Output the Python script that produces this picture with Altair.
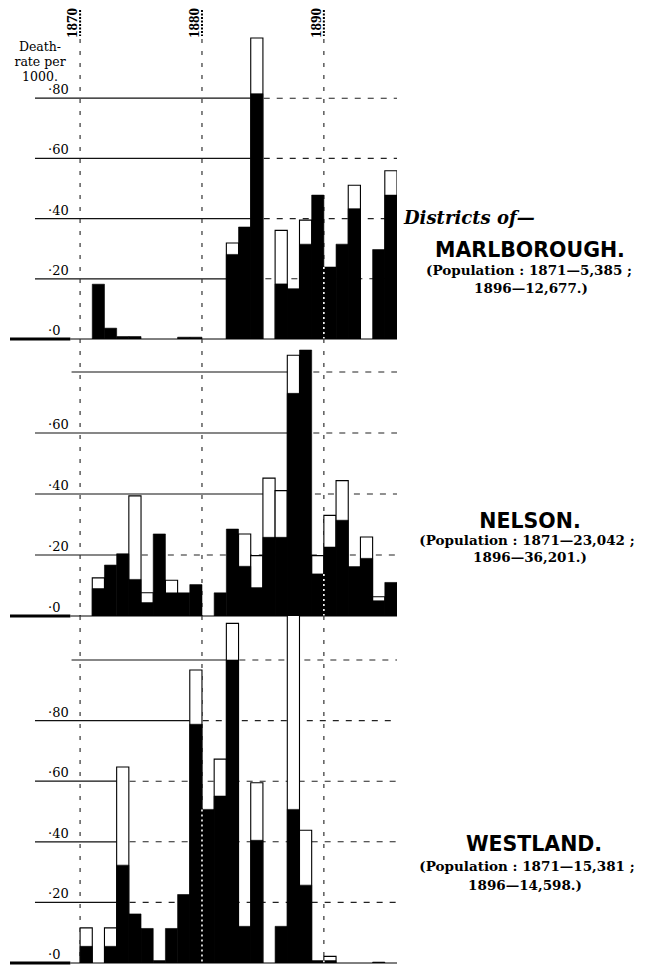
import altair as alt
import pandas as pd

# ---------------- data ----------------
years = list(range(1871, 1897))          # bar for year Y spans Y-1 .. Y
year_marks = [1870, 1880, 1890]

marl_black = [0.000, 0.182, 0.036, 0.008, 0.008, 0.000, 0.000, 0.000, 0.006, 0.006, 0.000, 0.000, 0.281,
              0.372, 0.815, 0.000, 0.183, 0.167, 0.315, 0.478, 0.239, 0.315, 0.433, 0.000, 0.297, 0.478]
marl_total = [0.000, 0.182, 0.036, 0.008, 0.008, 0.000, 0.000, 0.000, 0.006, 0.006, 0.000, 0.000, 0.319,
              0.372, 1.000, 0.000, 0.361, 0.167, 0.395, 0.478, 0.239, 0.315, 0.511, 0.000, 0.297, 0.559]
nels_black = [0.000, 0.090, 0.167, 0.204, 0.120, 0.044, 0.269, 0.076, 0.076, 0.103, 0.000, 0.076, 0.285,
              0.163, 0.093, 0.258, 0.258, 0.730, 0.872, 0.138, 0.226, 0.314, 0.162, 0.189, 0.050, 0.110]
nels_total = [0.000, 0.125, 0.167, 0.204, 0.394, 0.076, 0.269, 0.117, 0.076, 0.103, 0.000, 0.076, 0.285,
              0.269, 0.198, 0.452, 0.411, 0.855, 0.872, 0.198, 0.330, 0.444, 0.162, 0.259, 0.063, 0.110]
west_black = [0.055, 0.000, 0.055, 0.323, 0.162, 0.114, 0.008, 0.114, 0.226, 0.788, 0.507, 0.551, 1.000,
              0.121, 0.405, 0.000, 0.121, 0.507, 0.257, 0.008, 0.008, 0.000, 0.000, 0.000, 0.003, 0.000]
west_total = [0.116, 0.000, 0.116, 0.647, 0.162, 0.114, 0.008, 0.114, 0.226, 0.967, 0.507, 0.673, 1.121,
              0.121, 0.595, 0.000, 0.121, 1.250, 0.438, 0.008, 0.022, 0.000, 0.000, 0.000, 0.003, 0.000]

# grid lines: value, label, year where the solid part ends
marl_grid = [0.2, 0.4, 0.6, 0.8]
marl_grid_labels = ["·20", "·40", "·60", "·80"]
marl_solid_end = [1882, 1884, 1884, 1884]

nels_grid = [0.2, 0.4, 0.6, 0.8]
nels_grid_labels = ["·20", "·40", "·60", ""]
nels_solid_end = [1874, 1885, 1887, 1887]

west_grid = [0.2, 0.4, 0.6, 0.8, 1.0]
west_grid_labels = ["·20", "·40", "·60", "·80", ""]
west_solid_end = [1873, 1873, 1873, 1879, 1882]

# ---------------- styling / layout ----------------
W = 387
X_DOMAIN = [1864.25, 1896]
LABELLED_START = 1866.3
UNLABELLED_START = 1869.3
BASE_STUB_END = 1869.2
SERIF = "DejaVu Serif"
SANS = "DejaVu Sans"
DUMMY = alt.Data(values=[{}])


def note(text, x, y, **style):
    return alt.Chart(DUMMY).mark_text(text=text, **style).encode(x=alt.value(x), y=alt.value(y))


def make_panel(black, total, gvals, glabels, solid_end, height, ymax, extras, top_panel=False):
    xs = alt.Scale(domain=X_DOMAIN, nice=False, zero=False)
    ys = alt.Scale(domain=[0, ymax], nice=False, zero=False)

    bars = pd.DataFrame({"year": years, "start": [y - 1 for y in years], "end": years,
                         "black": black, "total": total, "zero": 0.0})

    grid = pd.DataFrame({
        "value": gvals,
        "label": glabels,
        "x0": [LABELLED_START if l else UNLABELLED_START for l in glabels],
        "x1": solid_end,
        "x2": [X_DOMAIN[1]] * len(gvals),
    })
    labels = pd.DataFrame({"value": [0.0] + gvals, "label": ["·0"] + glabels})
    labels = labels[labels["label"] != ""]

    knock = []
    for m in year_marks:
        i = m - 1871
        left = black[i] if 0 <= i < len(black) else 0.0
        right = black[i + 1] if 0 <= i + 1 < len(black) else 0.0
        knock.append(min(left, right))
    vlines = pd.DataFrame({"year": year_marks, "knock": knock, "zero": 0.0})
    base = pd.DataFrame({"x0": [X_DOMAIN[0], BASE_STUB_END], "x1": [BASE_STUB_END, X_DOMAIN[1]],
                         "w": [3.2, 1.0], "zero": [0.0, 0.0]})

    X = lambda f: alt.X(f, scale=xs, axis=None)
    Y = lambda f: alt.Y(f, scale=ys, axis=None)

    dashed_grid = alt.Chart(grid).mark_rule(color="#222", strokeWidth=1.1, strokeDash=[6, 7]).encode(
        x=X("x1:Q"), x2="x2:Q", y=Y("value:Q"))
    solid_grid = alt.Chart(grid).mark_rule(color="#111", strokeWidth=1.2).encode(
        x=X("x0:Q"), x2="x1:Q", y=Y("value:Q"))
    vtop = 30 if top_panel else 0
    vdash = alt.Chart(vlines).mark_rule(color="#333", strokeWidth=1.2, strokeDash=[4, 8]).encode(
        x=X("year:Q"), y=alt.value(vtop), y2=alt.value(height))
    white = alt.Chart(bars).transform_filter("datum.total > datum.black").mark_rect(
        color="white", stroke="black", strokeWidth=1.1, clip=True).encode(
        x=X("start:Q"), x2="end:Q", y=Y("total:Q"), y2="zero:Q")
    blk = alt.Chart(bars).transform_filter("datum.black > 0").mark_rect(
        color="black", stroke="black", strokeWidth=0.6, clip=True).encode(
        x=X("start:Q"), x2="end:Q", y=Y("black:Q"), y2="zero:Q")
    knockout = alt.Chart(vlines).transform_filter("datum.knock > 0").mark_rule(
        color="white", strokeWidth=1.6, strokeDash=[2, 3]).encode(
        x=X("year:Q"), y=Y("knock:Q"), y2="zero:Q")
    baseline = alt.Chart(base).mark_rule(color="black").encode(
        x=X("x0:Q"), x2="x1:Q", y=Y("zero:Q"), strokeWidth=alt.StrokeWidth("w:Q", scale=None))
    ylab = alt.Chart(labels).mark_text(font=SERIF, fontSize=13, align="left", baseline="alphabetic",
                                       dx=-32, dy=-4, color="black").encode(
        x=alt.X(datum=1870, scale=xs, axis=None), y=Y("value:Q"), text="label:N")

    layers = [dashed_grid, solid_grid, vdash, white, blk, knockout, baseline, ylab]

    if top_panel:
        marks = pd.DataFrame({"year": year_marks, "label": [str(y) for y in year_marks]})
        dots = alt.Chart(marks).mark_rule(color="black", strokeWidth=2, strokeDash=[2, 1.5]).encode(
            x=X("year:Q"), y=alt.value(1), y2=alt.value(27))
        ylabels = alt.Chart(marks).mark_text(font="Liberation Serif", fontWeight="bold", fontSize=15,
                                             angle=270, align="left", baseline="alphabetic", dy=-3).encode(
            x=X("year:Q"), y=alt.value(29), text="label:N")
        head = note(["Death-", "rate per", "1000."], 30, 32, font=SERIF, fontSize=12.5, lineHeight=15,
                    align="center", baseline="top")
        layers += [dots, ylabels, head]

    layers += extras
    return alt.layer(*layers).properties(width=W, height=height)


def district(name, pop1, pop2, ny, p1, p2, districts_of=None):
    out = []
    if districts_of:
        out.append(note("Districts of—", districts_of[0], districts_of[1], font=SERIF, fontSize=18,
                        fontWeight="bold", fontStyle="italic", align="left"))
    out.append(note(name, ny[0], ny[1], font=SANS, fontSize=20.5, fontWeight="bold", align="center"))
    out.append(note(pop1, p1[0], p1[1], font=SERIF, fontSize=13.5, fontWeight="bold", align="center"))
    out.append(note(pop2, p2[0], p2[1], font=SERIF, fontSize=13.5, fontWeight="bold", align="center"))
    return out


marl_txt = district("MARLBOROUGH.", "(Population : 1871—5,385 ;", "1896—12,677.)",
                    (520, 242), (519, 262), (521, 280), districts_of=(394, 210))
nels_txt = district("NELSON.", "(Population : 1871—23,042 ;", "1896—36,201.)",
                    (520, 183), (517, 202), (520, 219))
west_txt = district("WESTLAND.", "(Population : 1871—15,381 ;", "1896—14,598.)",
                    (524, 229), (517, 251), (515, 270))

marl = make_panel(marl_black, marl_total, marl_grid, marl_grid_labels, marl_solid_end,
                  330, 330 / 301, marl_txt, top_panel=True)
nels = make_panel(nels_black, nels_total, nels_grid, nels_grid_labels, nels_solid_end,
                  277, 277 / 305, nels_txt)
west = make_panel(west_black, west_total, west_grid, west_grid_labels, west_solid_end,
                  347, 347 / 303, west_txt)

chart = alt.vconcat(marl, nels, west, spacing=0, bounds="flush", padding=0).configure(
    background="white").configure_view(stroke="transparent", strokeWidth=0)

chart.save("out.html", embed_options={"renderer": "svg", "actions": False})
